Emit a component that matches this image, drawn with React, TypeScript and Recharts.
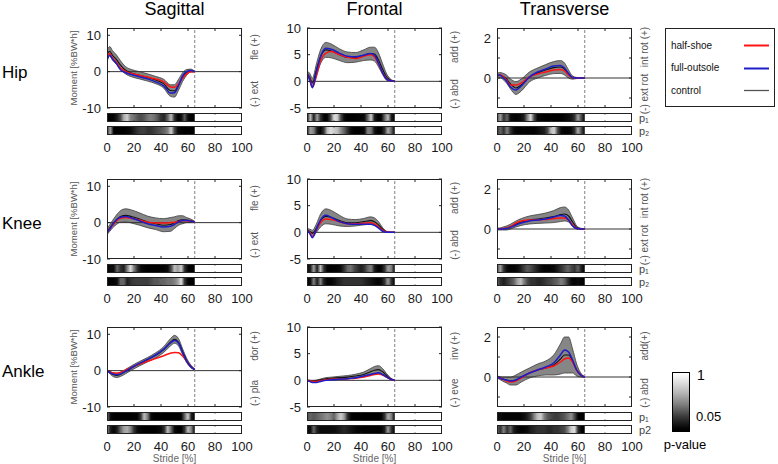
import React from 'react';
import { ComposedChart, Area, Line, XAxis, YAxis, ReferenceLine } from 'recharts';

// ---------- data ----------
const stride = [0, 2, 4, 7, 10, 14, 18, 24, 30, 36, 42, 47, 50, 53, 56, 59, 62, 65];
const pStride = [0, 2.5, 5, 7.5, 10, 12.5, 15, 17.5, 20, 22.5, 25, 27.5, 30, 32.5, 35, 37.5, 40, 42.5, 45, 47.5, 50, 52.5, 55, 57.5, 60, 62.5, 65];
const xTicks = [0, 20, 40, 60, 80, 100];
const innerXTicks = [20, 40, 60, 80];
const sagTicks = [-10, 0, 10];
const froTicks = [-5, 0, 5, 10];
const traTicks = [-1, 0, 1, 2];
const sagDomain = [-10, 12];
const froDomain = [-5, 10];
const traDomain = [-1.5, 2.5];
const columnTitles = ['Sagittal', 'Frontal', 'Transverse'];
const rowTitles = ['Hip', 'Knee', 'Ankle'];
const seriesNames = ['half-shoe', 'full-outsole', 'control'];

// Hip
const hipSagControl = [4.8, 5.6, 4.5, 3.3, 1.8, 0.3, -0.4, -1.0, -1.6, -2.3, -3.3, -5.2, -5.3, -3.6, -1.5, -0.2, 0.3, 0.0];
const hipSagHalf = [4.2, 5.0, 3.8, 2.5, 1.0, 0.0, -0.5, -1.0, -1.5, -2.0, -2.8, -4.2, -4.3, -3.3, -1.8, -0.6, 0.0, 0.0];
const hipSagFull = [3.0, 4.5, 3.5, 2.2, 0.5, -0.3, -0.8, -1.4, -2.0, -2.8, -3.9, -5.9, -5.8, -3.8, -1.2, 0.0, 0.3, 0.0];
const hipSagSd = [1.2, 1.3, 1.3, 1.3, 1.2, 1.0, 1.0, 1.0, 1.0, 1.0, 1.2, 1.6, 1.7, 1.5, 1.2, 0.8, 0.4, 0.1];

const hipFroControl = [1.5, 0.8, -0.3, 2.2, 4.6, 5.9, 5.7, 5.0, 4.5, 4.5, 4.9, 5.2, 5.1, 4.0, 2.3, 0.8, 0.2, 0];
const hipFroHalf = [1.5, 0.5, -1.0, 1.0, 3.8, 5.3, 5.6, 5.0, 4.5, 4.3, 4.7, 5.0, 4.6, 3.2, 1.6, 0.5, 0.1, 0];
const hipFroFull = [1.6, 0.3, -1.2, 1.8, 4.6, 6.2, 6.0, 5.3, 4.7, 4.6, 4.9, 5.2, 4.9, 3.4, 1.6, 0.4, 0.1, 0];
const hipFroSd = [0.5, 0.7, 0.9, 1.1, 1.3, 1.4, 1.3, 1.1, 1.0, 0.9, 1.0, 1.2, 1.3, 1.3, 1.0, 0.6, 0.2, 0.05];

const hipTraControl = [0.15, 0.15, 0.1, -0.05, -0.3, -0.5, -0.35, 0.05, 0.25, 0.4, 0.52, 0.55, 0.45, 0.2, 0.02, 0, 0, 0];
const hipTraHalf = [0.15, 0.15, 0.1, -0.1, -0.35, -0.35, -0.25, 0.05, 0.2, 0.3, 0.4, 0.42, 0.35, 0.15, 0.02, 0, 0, 0];
const hipTraFull = [0.15, 0.15, 0.05, -0.15, -0.45, -0.6, -0.4, 0.05, 0.3, 0.45, 0.6, 0.62, 0.5, 0.22, 0.02, 0, 0, 0];
const hipTraSd = [0.1, 0.12, 0.15, 0.2, 0.25, 0.32, 0.3, 0.25, 0.25, 0.27, 0.3, 0.32, 0.3, 0.2, 0.08, 0.03, 0.02, 0.01];

// Knee
const kneeSagControl = [-2.5, -1.5, -0.5, 0.8, 1.7, 2.0, 1.7, 1.0, 0.2, -0.3, -0.7, -0.5, 0.0, 0.6, 0.8, 0.7, 0.5, 0.2];
const kneeSagHalf = [-2.5, -1.8, -0.8, 0.5, 1.2, 1.4, 1.2, 0.7, 0.1, -0.1, -0.1, 0.0, 0.1, 0.3, 0.5, 0.5, 0.4, 0.2];
const kneeSagFull = [-2.8, -1.8, -0.6, 0.8, 1.5, 1.7, 1.3, 0.5, -0.3, -0.8, -1.2, -1.0, -0.5, 0.2, 0.6, 0.6, 0.4, 0.2];
const kneeSagSd = [0.8, 0.9, 1.0, 1.3, 1.6, 1.8, 1.8, 1.7, 1.6, 1.6, 1.8, 1.9, 1.6, 1.3, 1.1, 0.7, 0.5, 0.2];

const kneeFroControl = [0.4, 0.2, -0.2, 0.8, 2.2, 3.0, 2.8, 2.2, 1.8, 1.8, 2.0, 2.2, 2.0, 1.4, 0.6, 0.1, 0, 0];
const kneeFroHalf = [0.3, 0.0, -0.8, 0.5, 1.8, 2.5, 2.4, 2.0, 1.6, 1.6, 1.7, 1.8, 1.6, 1.0, 0.4, 0.05, 0, 0];
const kneeFroFull = [0.5, -0.2, -1.0, 0.6, 2.3, 3.2, 2.8, 2.0, 1.6, 1.5, 1.5, 1.5, 1.3, 0.8, 0.2, 0, 0, 0];
const kneeFroSd = [0.3, 0.4, 0.6, 0.8, 1.2, 1.4, 1.3, 1.0, 0.7, 0.6, 0.6, 0.7, 0.7, 0.6, 0.3, 0.1, 0.05, 0.02];

const kneeTraControl = [0, 0, 0.02, 0.05, 0.12, 0.25, 0.35, 0.45, 0.5, 0.55, 0.62, 0.72, 0.75, 0.65, 0.35, 0.08, 0.01, 0];
const kneeTraHalf = [0, 0, 0.02, 0.05, 0.12, 0.3, 0.4, 0.45, 0.45, 0.48, 0.52, 0.55, 0.55, 0.45, 0.2, 0.03, 0, 0];
const kneeTraFull = [0, 0, 0, 0.02, 0.08, 0.2, 0.3, 0.4, 0.45, 0.5, 0.6, 0.68, 0.65, 0.45, 0.15, 0.02, 0, 0];
const kneeTraSd = [0.05, 0.05, 0.07, 0.1, 0.12, 0.15, 0.17, 0.2, 0.22, 0.25, 0.3, 0.35, 0.35, 0.3, 0.2, 0.08, 0.03, 0.01];

// Ankle
const ankSagControl = [0, -0.5, -1.0, -1.3, -1.0, -0.2, 0.7, 1.9, 3.0, 4.2, 5.8, 7.8, 8.6, 7.8, 5.2, 2.8, 1.2, 0.3];
const ankSagHalf = [0, -0.3, -0.6, -0.7, -0.5, 0.2, 0.9, 1.8, 2.6, 3.3, 4.1, 4.8, 5.0, 4.9, 4.0, 2.6, 1.2, 0.3];
const ankSagFull = [0, -0.5, -0.9, -1.1, -0.9, -0.1, 0.8, 2.0, 3.1, 4.3, 5.9, 7.6, 8.3, 7.6, 5.0, 2.6, 1.1, 0.3];
const ankSagSd = [0.1, 0.3, 0.5, 0.6, 0.6, 0.6, 0.6, 0.6, 0.6, 0.7, 0.8, 1.0, 1.1, 1.0, 0.8, 0.6, 0.4, 0.1];

const ankFroControl = [0, -0.1, -0.2, -0.1, 0.1, 0.3, 0.4, 0.5, 0.6, 0.8, 1.1, 1.6, 1.9, 2.0, 1.6, 0.9, 0.3, 0];
const ankFroHalf = [0, -0.1, -0.2, -0.2, -0.1, 0.1, 0.2, 0.2, 0.3, 0.4, 0.6, 0.9, 1.1, 1.2, 1.0, 0.6, 0.2, 0];
const ankFroFull = [0, -0.2, -0.4, -0.4, -0.2, 0.0, 0.1, 0.2, 0.3, 0.5, 0.8, 1.1, 1.3, 1.4, 1.1, 0.6, 0.2, 0];
const ankFroSd = [0.05, 0.1, 0.15, 0.15, 0.15, 0.2, 0.2, 0.25, 0.3, 0.35, 0.45, 0.6, 0.7, 0.75, 0.6, 0.35, 0.15, 0.02];

const ankTraControl = [0, -0.05, -0.1, -0.15, -0.2, -0.15, 0.0, 0.2, 0.35, 0.45, 0.6, 0.9, 1.1, 1.1, 0.8, 0.35, 0.1, 0];
const ankTraHalf = [0, -0.05, -0.1, -0.2, -0.25, -0.2, -0.05, 0.2, 0.35, 0.45, 0.55, 0.75, 0.9, 0.95, 0.75, 0.35, 0.1, 0];
const ankTraFull = [0, -0.05, -0.1, -0.15, -0.2, -0.15, 0.0, 0.2, 0.35, 0.5, 0.7, 1.1, 1.35, 1.25, 0.85, 0.35, 0.1, 0];
const ankTraSd = [0.05, 0.07, 0.1, 0.15, 0.2, 0.25, 0.25, 0.25, 0.3, 0.35, 0.5, 0.75, 0.9, 0.9, 0.6, 0.3, 0.1, 0.02];

// p-value strips (brightness 0 = black / p small, 1 = white / p large), sampled at pStride
const hipSagP1 = [0, 0, 0.05, 0.2, 0.4, 0.75, 0.85, 0.6, 0.55, 0.45, 0.4, 0.45, 0.55, 0.6, 0.55, 0.45, 0.3, 0.25, 0.5, 0.8, 0.3, 0.05, 0.1, 0.45, 0.1, 0, 0];
const hipSagP2 = [0.3, 0.7, 0, 0, 0, 0, 0.05, 0.1, 0.2, 0.3, 0.35, 0.35, 0.3, 0.3, 0.35, 0.4, 0.45, 0.5, 0.6, 0.85, 0.4, 0.1, 0.05, 0, 0, 0, 0];
const hipFroP1 = [0.1, 0.8, 0.2, 0.7, 0.3, 0.05, 0.05, 0.4, 0.9, 0.85, 0.4, 0.1, 0, 0, 0, 0.05, 0.05, 0.1, 0.5, 0.85, 0.2, 0, 0.05, 0.5, 0.8, 0.2, 0];
const hipFroP2 = [0.2, 0.7, 0.6, 0.2, 0.05, 0.3, 0.8, 0.9, 0.85, 0.8, 0.65, 0.5, 0.3, 0.1, 0, 0, 0, 0.1, 0.6, 0.55, 0.15, 0, 0.05, 0.3, 0.75, 0.5, 0];
const hipTraP1 = [0.4, 0.7, 0.3, 0.5, 0.1, 0.05, 0.05, 0.1, 0.2, 0.6, 0.9, 0.4, 0.1, 0.05, 0, 0, 0, 0, 0, 0, 0.05, 0.1, 0.15, 0.3, 0.7, 0.4, 0];
const hipTraP2 = [0.3, 0.5, 0.3, 0.6, 0.3, 0.1, 0.05, 0.05, 0.05, 0.05, 0.05, 0.05, 0.1, 0.15, 0.2, 0.4, 0.8, 0.85, 0.4, 0.1, 0.05, 0.05, 0.1, 0.3, 0.75, 0.4, 0];
const kneeSagP1 = [0.05, 0.1, 0.1, 0.5, 0.3, 0.2, 0.6, 0.9, 0.6, 0.3, 0.1, 0.05, 0, 0, 0, 0, 0, 0.05, 0.1, 0.4, 0.8, 0.7, 0.85, 0.3, 0.05, 0, 0];
const kneeSagP2 = [0, 0, 0.05, 0.1, 0.5, 0.5, 0.2, 0.3, 0.35, 0.35, 0.35, 0.35, 0.35, 0.4, 0.45, 0.45, 0.5, 0.5, 0.55, 0.55, 0.6, 0.7, 0.9, 0.3, 0.05, 0, 0];
const kneeFroP1 = [0.1, 0.2, 0.7, 0.2, 0.8, 0.3, 0.05, 0, 0, 0.05, 0.1, 0.3, 0.5, 0.55, 0.4, 0.3, 0.2, 0.3, 0.5, 0.6, 0.2, 0.05, 0.05, 0.3, 0.7, 0.6, 0];
const kneeFroP2 = [0, 0.1, 0.6, 0.2, 0.6, 0.2, 0.05, 0.05, 0.1, 0.2, 0.25, 0.3, 0.3, 0.3, 0.3, 0.3, 0.3, 0.25, 0.2, 0.15, 0.1, 0.05, 0.1, 0.3, 0.7, 0.3, 0];
const kneeTraP1 = [0.4, 0.7, 0.3, 0.1, 0.05, 0.05, 0.1, 0.2, 0.35, 0.45, 0.4, 0.3, 0.2, 0.1, 0.05, 0.05, 0.05, 0.1, 0.2, 0.3, 0.4, 0.5, 0.4, 0.3, 0.5, 0.2, 0];
const kneeTraP2 = [0.5, 0.3, 0.2, 0.3, 0.4, 0.5, 0.7, 0.8, 0.6, 0.4, 0.3, 0.3, 0.25, 0.25, 0.3, 0.35, 0.4, 0.45, 0.5, 0.6, 0.5, 0.3, 0.1, 0.05, 0.1, 0.05, 0];
const ankSagP1 = [0.6, 0.1, 0, 0, 0, 0, 0, 0, 0, 0.05, 0.3, 0.8, 0.6, 0.1, 0, 0, 0, 0, 0, 0, 0, 0, 0.05, 0.5, 0.85, 0.2, 0];
const ankSagP2 = [0.7, 0.2, 0.05, 0.2, 0.5, 0.7, 0.75, 0.6, 0.3, 0.1, 0.05, 0, 0, 0, 0, 0.05, 0.1, 0.3, 0.8, 0.5, 0.1, 0, 0, 0.3, 0.8, 0.6, 0];
const ankFroP1 = [0.4, 0.5, 0.45, 0.5, 0.55, 0.6, 0.65, 0.6, 0.5, 0.7, 0.85, 0.7, 0.3, 0.05, 0, 0, 0, 0, 0, 0, 0, 0, 0.05, 0.3, 0.75, 0.6, 0];
const ankFroP2 = [0.1, 0.1, 0.5, 0.2, 0.1, 0.1, 0.1, 0.1, 0.1, 0.15, 0.2, 0.25, 0.2, 0.15, 0.1, 0.05, 0.05, 0.05, 0.05, 0.05, 0.05, 0.05, 0.05, 0.2, 0.7, 0.3, 0];
const ankTraP1 = [0.1, 0.1, 0.05, 0.05, 0.05, 0.05, 0.05, 0.05, 0.1, 0.2, 0.35, 0.6, 0.8, 0.85, 0.6, 0.45, 0.4, 0.35, 0.35, 0.4, 0.45, 0.55, 0.65, 0.4, 0.05, 0, 0];
const ankTraP2 = [0.5, 0.3, 0.6, 0.3, 0.5, 0.2, 0.1, 0.05, 0.05, 0.1, 0.2, 0.25, 0.3, 0.3, 0.3, 0.25, 0.25, 0.3, 0.3, 0.35, 0.4, 0.6, 0.85, 0.9, 0.3, 0.05, 0];

// ---------- layout / style ----------
const COL_X = [107, 307, 497];
const ROW_Y = [28, 179, 327];
const PW = 135;
const PH = 80;
const YW = 30;
const MT = 8;
const MR = 4;
const SM = 14;
const TICK_PX = 3;
const FONT = 'Arial, "Liberation Sans", Helvetica, sans-serif';
const RED = '#ff1414';
const BLUE = '#1c1cc8';

const axisCfg = [
  { domain: sagDomain, ticks: sagTicks },
  { domain: froDomain, ticks: froTicks },
  { domain: traDomain, ticks: traTicks },
];

const panels = [
  { row: 0, col: 0, half: hipSagHalf, full: hipSagFull, ctrl: hipSagControl, sd: hipSagSd, p1: hipSagP1, p2: hipSagP2, pos: 'fle (+)', neg: '(-) ext' },
  { row: 0, col: 1, half: hipFroHalf, full: hipFroFull, ctrl: hipFroControl, sd: hipFroSd, p1: hipFroP1, p2: hipFroP2, pos: 'add (+)', neg: '(-) abd' },
  { row: 0, col: 2, half: hipTraHalf, full: hipTraFull, ctrl: hipTraControl, sd: hipTraSd, p1: hipTraP1, p2: hipTraP2, pos: 'int rot (+)', neg: '(-) ext rot' },
  { row: 1, col: 0, half: kneeSagHalf, full: kneeSagFull, ctrl: kneeSagControl, sd: kneeSagSd, p1: kneeSagP1, p2: kneeSagP2, pos: 'fle (+)', neg: '(-) ext' },
  { row: 1, col: 1, half: kneeFroHalf, full: kneeFroFull, ctrl: kneeFroControl, sd: kneeFroSd, p1: kneeFroP1, p2: kneeFroP2, pos: 'add (+)', neg: '(-) abd' },
  { row: 1, col: 2, half: kneeTraHalf, full: kneeTraFull, ctrl: kneeTraControl, sd: kneeTraSd, p1: kneeTraP1, p2: kneeTraP2, pos: 'int rot (+)', neg: '(-) ext rot' },
  { row: 2, col: 0, half: ankSagHalf, full: ankSagFull, ctrl: ankSagControl, sd: ankSagSd, p1: ankSagP1, p2: ankSagP2, pos: 'dor (+)', neg: '(-) pla' },
  { row: 2, col: 1, half: ankFroHalf, full: ankFroFull, ctrl: ankFroControl, sd: ankFroSd, p1: ankFroP1, p2: ankFroP2, pos: 'inv (+)', neg: '(-) eve' },
  { row: 2, col: 2, half: ankTraHalf, full: ankTraFull, ctrl: ankTraControl, sd: ankTraSd, p1: ankTraP1, p2: ankTraP2, pos: 'add(+)', neg: '(-) abd' },
];

const pLabels = [['p\u2081', 'p\u2082'], ['p\u2081', 'p\u2082'], ['p\u2081', 'p2']];

// grey-level rendering of p-value brightness (slight gamma so dark regions read as near black)
const gray = (b: number) => {
  const v = Math.round(Math.pow(b, 1.35) * 255);
  return `rgb(${v},${v},${v})`;
};

const abs = (left: number, top: number, extra: React.CSSProperties = {}): React.CSSProperties => ({
  position: 'absolute',
  left,
  top,
  ...extra,
});

function Centered({ x, y, text, size, color = '#000', rotate = 0 }: { x: number; y: number; text: string; size: number; color?: string; rotate?: number }) {
  return (
    <div
      style={{
        position: 'absolute',
        left: x,
        top: y,
        transform: `translate(-50%, -50%) rotate(${rotate}deg)`,
        fontSize: size,
        color,
        whiteSpace: 'nowrap',
        lineHeight: 1,
      }}
    >
      {text}
    </div>
  );
}

function Panel({ cfg, idx }: { cfg: any; idx: number }) {
  const left = COL_X[cfg.col];
  const top = ROW_Y[cfg.row];
  const ax = axisCfg[cfg.col];
  const [d0, d1] = ax.domain;
  const dy = ((d1 - d0) * TICK_PX) / PH;
  const dx = (100 * TICK_PX) / PW;
  const data = stride.map((s, i) => ({
    s,
    half: cfg.half[i],
    full: cfg.full[i],
    ctrl: cfg.ctrl[i],
    band: [cfg.ctrl[i] - cfg.sd[i], cfg.ctrl[i] + cfg.sd[i]],
  }));
  const pdata = pStride.map((s) => ({ s, r1: [13, 22], r2: [0, 9] }));
  const tickStyle = { fontSize: 13, fill: '#1a1a1a', fontFamily: FONT };
  const frame: React.CSSProperties = { border: '1px solid #222', boxSizing: 'border-box', pointerEvents: 'none' };
  const tickProps = { stroke: '#222', strokeWidth: 1 };
  return (
    <>
      <div style={abs(left - YW, top - MT)}>
        <ComposedChart width={YW + PW + MR} height={PH + 2 * MT} data={data} margin={{ top: MT, right: MR, bottom: MT, left: 0 }}>
          <XAxis dataKey="s" type="number" domain={[0, 100]} ticks={xTicks} hide allowDataOverflow />
          <YAxis type="number" domain={ax.domain} ticks={ax.ticks} width={YW} axisLine={false} tickLine={false} tickSize={4} tickMargin={2} tick={tickStyle} allowDataOverflow />
          <Area dataKey="band" type="monotone" stroke="#3c3c3c" strokeWidth={0.8} fill="#868686" fillOpacity={1} dot={false} activeDot={false} isAnimationActive={false} />
          <ReferenceLine y={0} stroke="#333" strokeWidth={1} />
          <ReferenceLine x={65} stroke="#808080" strokeWidth={1} strokeDasharray="3 2" />
          {innerXTicks.map((t) => (
            <ReferenceLine key={`b${t}`} segment={[{ x: t, y: d0 }, { x: t, y: d0 + dy }]} {...tickProps} />
          ))}
          {innerXTicks.map((t) => (
            <ReferenceLine key={`t${t}`} segment={[{ x: t, y: d1 }, { x: t, y: d1 - dy }]} {...tickProps} />
          ))}
          {ax.ticks.map((t) => (
            <ReferenceLine key={`l${t}`} segment={[{ x: 0, y: t }, { x: dx, y: t }]} {...tickProps} />
          ))}
          {ax.ticks.map((t) => (
            <ReferenceLine key={`r${t}`} segment={[{ x: 100, y: t }, { x: 100 - dx, y: t }]} {...tickProps} />
          ))}
          <Line dataKey="ctrl" type="monotone" stroke="#111" strokeWidth={1.1} dot={false} activeDot={false} isAnimationActive={false} />
          <Line dataKey="half" type="monotone" stroke={RED} strokeWidth={1.5} dot={false} activeDot={false} isAnimationActive={false} />
          <Line dataKey="full" type="monotone" stroke={BLUE} strokeWidth={1.5} dot={false} activeDot={false} isAnimationActive={false} />
        </ComposedChart>
      </div>
      <div style={abs(left, top, { ...frame, width: PW, height: PH })} />
      <div style={abs(left - SM, top + 85)}>
        <ComposedChart width={PW + 2 * SM} height={22 + 26} data={pdata} margin={{ top: 0, right: SM, bottom: 0, left: SM }}>
          <XAxis dataKey="s" type="number" domain={[0, 100]} ticks={xTicks} height={26} axisLine={false} tickLine={false} tick={tickStyle} allowDataOverflow />
          <YAxis type="number" domain={[0, 22]} hide allowDataOverflow />
          <Area dataKey="r1" type="linear" stroke="none" fill={`url(#pg-${idx}-1)`} fillOpacity={1} dot={false} activeDot={false} isAnimationActive={false} />
          <Area dataKey="r2" type="linear" stroke="none" fill={`url(#pg-${idx}-2)`} fillOpacity={1} dot={false} activeDot={false} isAnimationActive={false} />
          {innerXTicks.map((t) => (
            <ReferenceLine key={`s1${t}`} segment={[{ x: t, y: 13 }, { x: t, y: 14.5 }]} {...tickProps} />
          ))}
          {innerXTicks.map((t) => (
            <ReferenceLine key={`s2${t}`} segment={[{ x: t, y: 22 }, { x: t, y: 20.5 }]} {...tickProps} />
          ))}
          {innerXTicks.map((t) => (
            <ReferenceLine key={`s3${t}`} segment={[{ x: t, y: 0 }, { x: t, y: 1.5 }]} {...tickProps} />
          ))}
          {innerXTicks.map((t) => (
            <ReferenceLine key={`s4${t}`} segment={[{ x: t, y: 9 }, { x: t, y: 7.5 }]} {...tickProps} />
          ))}
        </ComposedChart>
      </div>
      <div style={abs(left, top + 85, { ...frame, width: PW, height: 9 })} />
      <div style={abs(left, top + 98, { ...frame, width: PW, height: 9 })} />
      <Centered x={left + 148} y={top + 19} text={cfg.pos} size={10} color="#555" rotate={-90} />
      <Centered x={left + 148} y={top + 66} text={cfg.neg} size={10} color="#555" rotate={-90} />
    </>
  );
}

export default function App() {
  return (
    <div style={{ position: 'absolute', left: 0, top: 0, width: 778, height: 464, background: '#fff', fontFamily: FONT, overflow: 'hidden' }}>
      <svg width={0} height={0} style={{ position: 'absolute' }}>
        <defs>
          {panels.map((p, idx) =>
            [p.p1, p.p2].map((arr: number[], k: number) => (
              <linearGradient key={`g${idx}-${k}`} id={`pg-${idx}-${k + 1}`} x1="0" y1="0" x2="1" y2="0">
                {pStride.map((s, i) => (
                  <stop key={i} offset={s / 65} stopColor={gray(arr[i])} />
                ))}
              </linearGradient>
            ))
          )}
        </defs>
      </svg>

      {columnTitles.map((t, c) => (
        <Centered key={t} x={COL_X[c] + PW / 2} y={9} text={t} size={18} />
      ))}
      {rowTitles.map((t, r) => (
        <div key={t} style={abs(2, ROW_Y[r] + 44, { transform: 'translateY(-50%)', fontSize: 17, lineHeight: 1 })}>{t}</div>
      ))}
      {ROW_Y.map((y) => (
        <Centered key={`ml${y}`} x={74} y={y + 40} text="Moment [%BW*h]" size={9.5} color="#555" rotate={-90} />
      ))}
      {COL_X.map((x) => (
        <Centered key={`st${x}`} x={x + PW / 2} y={459} text="Stride [%]" size={10} color="#666" />
      ))}

      {panels.map((p, idx) => (
        <Panel key={idx} cfg={p} idx={idx} />
      ))}

      {ROW_Y.map((y, r) => (
        <React.Fragment key={`pl${r}`}>
          <div style={abs(639, y + 89.5, { transform: 'translateY(-50%)', fontSize: 11, color: '#444', lineHeight: 1 })}>{pLabels[r][0]}</div>
          <div style={abs(639, y + 102.5, { transform: 'translateY(-50%)', fontSize: 11, color: '#444', lineHeight: 1 })}>{pLabels[r][1]}</div>
        </React.Fragment>
      ))}

      {/* legend */}
      <div style={abs(665, 28, { width: 110, height: 79, border: '1px solid #222', boxSizing: 'border-box' })} />
      {seriesNames.map((n, i) => (
        <React.Fragment key={n}>
          <div style={abs(671, 45.5 + i * 22.6, { transform: 'translateY(-50%)', fontSize: 10, lineHeight: 1, color: '#111' })}>{n}</div>
          <svg style={abs(744, 40 + i * 22.6)} width={26} height={11}>
            <line x1={0} x2={25} y1={5.5} y2={5.5} stroke={[RED, BLUE, '#555'][i]} strokeWidth={i === 2 ? 1.3 : 2} />
          </svg>
        </React.Fragment>
      ))}

      {/* colorbar */}
      <div
        style={abs(672, 372, {
          width: 18,
          height: 60,
          border: '1.5px solid #000',
          boxSizing: 'border-box',
          background: 'linear-gradient(to bottom, #ffffff 0%, #e2e2e2 15%, #b4b4b4 35%, #7c7c7c 55%, #3a3a3a 75%, #050505 95%, #000 100%)',
        })}
      />
      <div style={abs(697, 375, { transform: 'translateY(-50%)', fontSize: 14, lineHeight: 1 })}>1</div>
      <div style={abs(696, 416, { transform: 'translateY(-50%)', fontSize: 13, lineHeight: 1 })}>0.05</div>
      <Centered x={685} y={444} text="p-value" size={13} />
    </div>
  );
}
